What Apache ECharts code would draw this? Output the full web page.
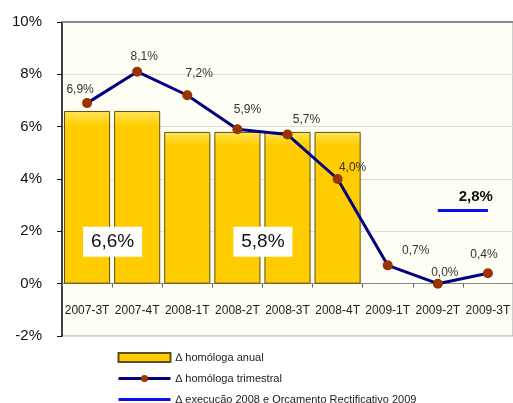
<!DOCTYPE html>
<html>
<head>
<meta charset="utf-8">
<script src="https://cdn.jsdelivr.net/npm/echarts@6/dist/echarts.min.js"></script>
<style>
  html,body{margin:0;padding:0;background:#fff;}
  #chart{width:513px;height:403px;}
</style>
</head>
<body>
<div id="chart"></div>
<script>
var categories = ['2007-3T','2007-4T','2008-1T','2008-2T','2008-3T','2008-4T','2009-1T','2009-2T','2009-3T'];
var anual = [6.6, 6.6, 5.8, 5.8, 5.8, 5.8, null, null, null];
var trimestral = [6.9, 8.1, 7.2, 5.9, 5.7, 4.0, 0.7, 0.0, 0.4];
var execucao = [null, null, null, null, null, null, null, 2.8, 2.8];
var yTicks = [-2, 0, 2, 4, 6, 8, 10];

// label nudges for the quarterly line (px, relative to the marker)
var lblOff = [[-7,-13],[7,-15],[12,-22],[10,-20],[19,-15],[15,-11],[28,-15],[7,-11],[-4,-19]];

function pct(v){ return v.toFixed(1).replace('.', ',') + '%'; }

var font = '"Liberation Sans", Arial, sans-serif';
var myChart = echarts.init(document.getElementById('chart'));

var names = ['∆ homóloga anual', '∆ homóloga trimestral', '∆ execução 2008 e Orçamento Rectificativo 2009'];

var option = {
    animation: false,
    textStyle: { fontFamily: font },
    grid: {
        left: 62, right: -8, top: 22, bottom: 67,
        show: true, backgroundColor: '#FEFEF5', borderColor: '#a0a0a0', borderWidth: 1
    },
    legend: {
        orient: 'vertical', left: 112, top: 347, height: 70,
        itemWidth: 52, itemHeight: 9, itemGap: 10,
        textStyle: { fontSize: 11, color: '#222', fontFamily: font },
        data: [
            { name: names[0], icon: 'rect' },
            { name: names[1], lineStyle: { width: 3 } },
            { name: names[2], itemStyle: { opacity: 0, borderWidth: 0 }, lineStyle: { width: 3 } }
        ]
    },
    xAxis: [{
        type: 'category',
        data: categories,
        axisLine: { onZero: true, lineStyle: { color: '#888', width: 1 } },
        axisTick: { show: true, length: 4, lineStyle: { color: '#666' } },
        axisLabel: { interval: 0, margin: -31, fontSize: 12, color: '#222' },
        splitLine: { show: false }
    }, {
        // thick grey top edge of the plot frame
        type: 'category', position: 'top', data: categories,
        axisLine: { onZero: false, lineStyle: { color: '#8c8c8c', width: 2 } },
        axisTick: { show: false }, axisLabel: { show: false }
    }],
    yAxis: {
        type: 'value', min: yTicks[0], max: yTicks[yTicks.length - 1], interval: 2,
        axisLine: { show: true, lineStyle: { color: '#111', width: 1.5 } },
        axisTick: { show: true, length: 5, lineStyle: { color: '#111' } },
        axisLabel: { fontSize: 15, color: '#111', margin: 20, formatter: function(v){ return v + '%'; } },
        splitLine: { lineStyle: { color: '#dddddd' } }
    },
    series: [
        {
            name: names[0],
            type: 'bar',
            data: anual,
            barCategoryGap: '8%',
            itemStyle: {
                color: new echarts.graphic.LinearGradient(0, 0, 0, 1, [
                    { offset: 0, color: '#FFE460' },
                    { offset: 0.05, color: '#FFD722' },
                    { offset: 0.09, color: '#FFCC00' },
                    { offset: 1, color: '#FFCC00' }
                ]),
                borderColor: '#5e5010', borderWidth: 1
            },
            markPoint: {
                symbol: 'rect',
                symbolSize: [59, 30],
                symbolOffset: [25.5, 0],
                itemStyle: { color: '#ffffff' },
                label: {
                    show: true, fontSize: 19, color: '#111',
                    formatter: function(p){ return pct(p.value); }
                },
                data: [
                    { coord: [0, 1.6], value: anual[0] },
                    { coord: [3, 1.6], value: anual[3] }
                ]
            },
            z: 2
        },
        {
            name: names[1],
            type: 'line',
            data: trimestral.map(function(v, i){
                return { value: v, label: { offset: lblOff[i] } };
            }),
            symbol: 'circle', symbolSize: 10,
            lineStyle: { color: '#000080', width: 3 },
            itemStyle: { color: '#993300' },
            label: {
                show: true, position: 'inside', fontSize: 12, color: '#333',
                formatter: function(p){ return pct(p.value); }
            },
            z: 4
        },
        {
            name: names[2],
            type: 'line',
            data: execucao,
            symbol: 'none',
            lineStyle: { color: '#0a10f0', width: 3 },
            itemStyle: { color: '#0a10f0' },
            markPoint: {
                symbol: 'circle', symbolSize: 1,
                itemStyle: { color: 'rgba(0,0,0,0)' },
                label: {
                    show: true, position: 'inside', offset: [38, -14],
                    fontSize: 15, fontWeight: 'bold', color: '#111',
                    formatter: function(p){ return pct(p.value); }
                },
                data: [{ coord: [7, execucao[7]], value: execucao[7] }]
            },
            z: 3
        }
    ]
};
myChart.setOption(option);
</script>
</body>
</html>
